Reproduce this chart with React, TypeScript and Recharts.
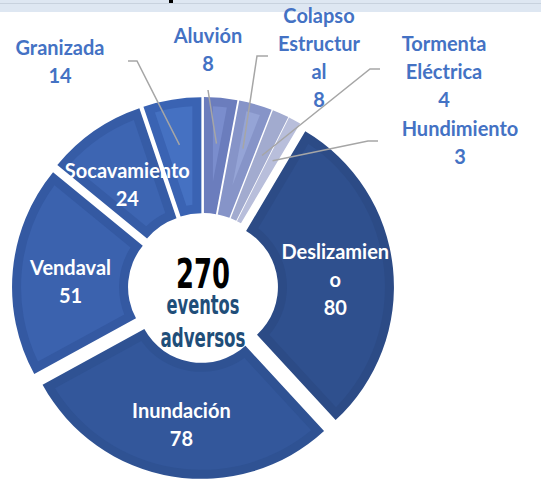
import React from 'react';
import { PieChart, Pie, Cell } from 'recharts';

// ---------- data ----------
const categories = [
  'Aluvión',
  'Colapso Estructural',
  'Tormenta Eléctrica',
  'Hundimiento',
  'Deslizamiento',
  'Inundación',
  'Vendaval',
  'Socavamiento',
  'Granizada',
];
const values = [8, 8, 4, 3, 80, 78, 51, 24, 14];
// wrapped label text as shown in the chart (value line is appended from `values`)
const labelText = [
  ['Aluvión'],
  ['Colapso', 'Estructur', 'al'],
  ['Tormenta', 'Eléctrica'],
  ['Hundimiento'],
  ['Deslizamien', 'o'],
  ['Inundación'],
  ['Vendaval'],
  ['Socavamiento'],
  ['Granizada'],
];
const totalText = '270';
const centerLines = ['eventos', 'adversos'];

// ---------- style ----------
const frameColors = ['#6B7DBD', '#8694C8', '#A2ABCF', '#B8BEDB', '#2C4B86', '#2F5293', '#3459A2', '#365CA6', '#3A63B3'];
const fillColors = ['#7A8DCD', '#95A4D6', '#AEB6D9', '#C3C9E3', '#2F508E', '#33579B', '#3B62AE', '#3D65B2', '#4571C2'];
const outside = [true, true, true, true, false, false, false, false, true];

const CX = 203;
const CY = 288;
const INNER = 65;
const OUTER = 181;
const EXPLODE = 10;
const BEVEL = 9;
const LINE_H = 28;
const INSIDE_SHIFT_Y = 5;

// outside label layout, offsets from pie centre: first text line centre, leader start, optional elbow
const outsideLayout: Record<number, { tx: number; ty: number; start: [number, number]; elbow?: [number, number] }> = {
  0: { tx: 5, ty: -253, start: [5, -198] },
  1: { tx: 116, ty: -273, start: [65, -232], elbow: [54, -232] },
  2: { tx: 241, ty: -245, start: [177, -219], elbow: [167, -219] },
  3: { tx: 257, ty: -160, start: [175, -147], elbow: [165, -147] },
  8: { tx: -143, ty: -241, start: [-75, -227], elbow: [-66, -227] },
};

const data = categories.map((name, i) => ({ name, value: values[i] }));

const RAD = Math.PI / 180;
const pt = (cx: number, cy: number, r: number, a: number): [number, number] => [
  cx + r * Math.cos(-a * RAD),
  cy + r * Math.sin(-a * RAD),
];

const ringPath = (cx: number, cy: number, r0: number, r1: number, s: number, e: number) => {
  const large = Math.abs(s - e) > 180 ? 1 : 0;
  const a = pt(cx, cy, r1, s);
  const b = pt(cx, cy, r1, e);
  const c = pt(cx, cy, r0, e);
  const d = pt(cx, cy, r0, s);
  return `M${a[0]},${a[1]} A${r1},${r1} 0 ${large} 1 ${b[0]},${b[1]} L${c[0]},${c[1]} A${r0},${r0} 0 ${large} 0 ${d[0]},${d[1]} Z`;
};

const bevelPath = (cx: number, cy: number, r0: number, r1: number, s: number, e: number) => {
  const half = (Math.abs(s - e) / 2) * RAD;
  const ro = r1 - BEVEL;
  const ri = Math.max(r0 + BEVEL, BEVEL / Math.sin(half));
  if (ri >= ro - 1) return null;
  const dOut = Math.asin(Math.min(1, BEVEL / ro)) / RAD;
  const dIn = Math.asin(Math.min(1, BEVEL / ri)) / RAD;
  const s1 = s - dOut;
  const e1 = e + dOut;
  const s2 = s - dIn;
  const e2 = e + dIn;
  const large = Math.abs(s1 - e1) > 180 ? 1 : 0;
  const a = pt(cx, cy, ro, s1);
  const b = pt(cx, cy, ro, e1);
  const c = pt(cx, cy, ri, e2);
  const d = pt(cx, cy, ri, s2);
  return `M${a[0]},${a[1]} A${ro},${ro} 0 ${large} 1 ${b[0]},${b[1]} L${c[0]},${c[1]} A${ri},${ri} 0 ${large} 0 ${d[0]},${d[1]} Z`;
};

const ExplodedSector = (props: any) => {
  const { cx, cy, innerRadius, outerRadius, startAngle, endAngle, name } = props;
  const i = categories.indexOf(name ?? props.payload?.name);
  const mid = (startAngle + endAngle) / 2;
  const [ox, oy] = pt(cx, cy, EXPLODE, mid);
  const bev = bevelPath(ox, oy, innerRadius, outerRadius, startAngle, endAngle);
  return (
    <g>
      <path d={ringPath(ox, oy, innerRadius, outerRadius, startAngle, endAngle)} fill={frameColors[i]} />
      {bev && <path d={bev} fill={fillColors[i]} />}
    </g>
  );
};

const labelFont = 'Lato, "Open Sans", sans-serif';
const centerFont = '"Liberation Sans Narrow", "DejaVu Sans Condensed", sans-serif';

const renderLabel = (props: any) => {
  const { cx, cy, midAngle, innerRadius, outerRadius } = props;
  const i = categories.indexOf(props.name ?? props.payload?.name);
  if (i < 0) return null;
  const lines = [...labelText[i], String(values[i])];
  const els: React.ReactNode[] = [];

  if (outside[i]) {
    const L = outsideLayout[i];
    const end = pt(cx, cy, (innerRadius + outerRadius) / 2 + EXPLODE + 12, midAngle);
    const ptsArr: [number, number][] = [[cx + L.start[0], cy + L.start[1]]];
    if (L.elbow) ptsArr.push([cx + L.elbow[0], cy + L.elbow[1]]);
    ptsArr.push(end);
    els.push(
      <polyline
        key="ll"
        points={ptsArr.map((p) => p.join(',')).join(' ')}
        fill="none"
        stroke="#A6A6A6"
        strokeWidth={1.5}
      />
    );
    lines.forEach((t, k) =>
      els.push(
        <text
          key={'t' + k}
          x={cx + L.tx}
          y={cy + L.ty + k * LINE_H}
          textAnchor="middle"
          dominantBaseline="central"
          fill="#4472C4"
          fontFamily={labelFont}
          fontWeight={700}
          fontSize={20}
        >
          {t}
        </text>
      )
    );
  } else {
    const [lx, ly0] = pt(cx, cy, (innerRadius + outerRadius) / 2 + EXPLODE, midAngle);
    const ly = ly0 + INSIDE_SHIFT_Y;
    const top = ly - ((lines.length - 1) * LINE_H) / 2;
    lines.forEach((t, k) =>
      els.push(
        <text
          key={'t' + k}
          x={lx}
          y={top + k * LINE_H}
          textAnchor="middle"
          dominantBaseline="central"
          fill="#FFFFFF"
          fontFamily={labelFont}
          fontWeight={700}
          fontSize={20}
        >
          {t}
        </text>
      )
    );
  }

  if (i === 0) {
    els.push(
      <text
        key="total"
        x={cx}
        y={cy}
        textAnchor="middle"
        fill="#000000"
        fontFamily={centerFont}
        fontWeight={700}
        fontSize={40}
        textLength={54}
        lengthAdjust="spacingAndGlyphs"
      >
        {totalText}
      </text>
    );
    els.push(
      <text
        key="c1"
        x={cx}
        y={cy + 26}
        textAnchor="middle"
        fill="#1F4E79"
        fontFamily={centerFont}
        fontWeight={700}
        fontSize={26}
        textLength={73}
        lengthAdjust="spacingAndGlyphs"
      >
        {centerLines[0]}
      </text>
    );
    els.push(
      <text
        key="c2"
        x={cx}
        y={cy + 59}
        textAnchor="middle"
        fill="#1F4E79"
        fontFamily={centerFont}
        fontWeight={700}
        fontSize={26}
        textLength={85}
        lengthAdjust="spacingAndGlyphs"
      >
        {centerLines[1]}
      </text>
    );
  }
  return <g>{els}</g>;
};

export default function App() {
  return (
    <div style={{ position: 'relative', width: 541, height: 484, background: '#FFFFFF' }}>
      <style>{'body{margin:0;}'}</style>
      <svg width={541} height={12} style={{ position: 'absolute', left: 0, top: 0 }}>
        <rect x={0} y={0} width={541} height={12} fill="#DEE7F2" />
        <rect x={0} y={3} width={541} height={1} fill="#C8D2DE" />
        <rect x={169} y={0} width={4} height={3} fill="#000000" />
      </svg>
      <div style={{ position: 'absolute', left: 0, top: 0 }}>
        <PieChart width={541} height={484} margin={{ top: 0, right: 0, bottom: 0, left: 0 }}>
          <Pie
            data={data}
            dataKey="value"
            nameKey="name"
            cx={CX}
            cy={CY}
            innerRadius={INNER}
            outerRadius={OUTER}
            startAngle={90}
            endAngle={-270}
            stroke="none"
            isAnimationActive={false}
            shape={ExplodedSector}
            inactiveShape={ExplodedSector}
            activeShape={ExplodedSector}
            label={renderLabel}
            labelLine={false}
          >
            {data.map((d, i) => (
              <Cell key={d.name} fill={frameColors[i]} />
            ))}
          </Pie>
        </PieChart>
      </div>
    </div>
  );
}
